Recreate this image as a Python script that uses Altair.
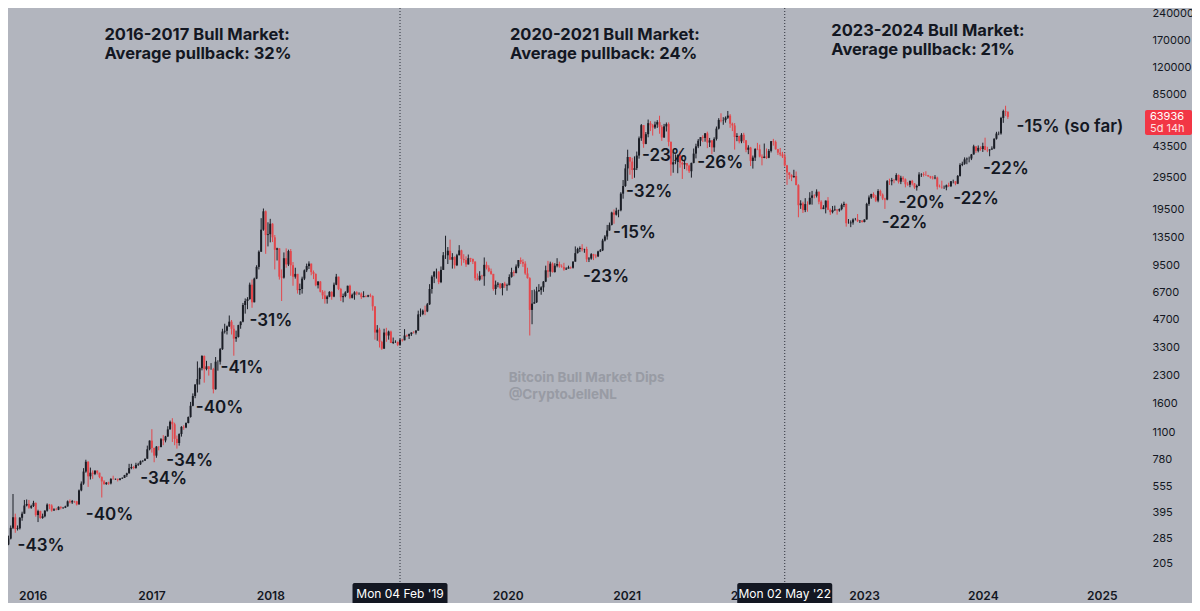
import altair as alt
import pandas as pd

# ---------------- weekly BTC/USD candles (weeks start on Monday) ----------------
first_open = 239

week1_2015 = "2015-10-05"
close_2015 = [246, 262, 283, 325, 372, 320, 323, 370, 390, 433, 442, 421, 430]
high_2015 = [249, 266, 294, 335, 502, 390, 335, 373, 400, 465, 468, 465, 437]
low_2015 = [235, 243, 260, 280, 320, 305, 314, 318, 356, 390, 428, 415, 415]

week1_2016 = "2016-01-04"
close_2016 = [448, 383, 403, 369, 377, 405, 438, 433, 406, 412, 410, 426, 420, 421, 428, 457,
              451, 458, 457, 439, 526, 574, 670, 760, 630, 660, 650, 678, 660, 624, 590, 570,
              581, 575, 610, 607, 610, 602, 613, 618, 640, 655, 700, 710, 702, 730, 735, 765,
              770, 790, 892, 997]
high_2016 = [460, 450, 410, 405, 390, 408, 445, 442, 440, 418, 420, 428, 428, 425, 432, 462,
             468, 465, 460, 459, 532, 590, 700, 780, 765, 705, 680, 680, 680, 660, 630, 600,
             585, 588, 615, 635, 612, 612, 615, 622, 642, 660, 740, 740, 720, 750, 750, 772,
             775, 792, 935, 1000]
low_2016 = [425, 375, 350, 365, 365, 372, 400, 413, 400, 405, 407, 408, 412, 414, 419, 427,
            445, 442, 448, 433, 439, 520, 565, 660, 550, 605, 610, 640, 645, 615, 480, 565,
            565, 565, 568, 605, 602, 590, 598, 609, 617, 625, 653, 690, 690, 695, 720, 730,
            755, 770, 790, 880]

week1_2017 = "2017-01-02"
close_2017 = [908, 822, 923, 918, 1015, 1000, 1052, 1152, 1270, 1230, 1020, 967, 1085, 1190,
              1180, 1250, 1350, 1560, 1770, 2050, 2200, 2530, 2960, 2500, 2590, 2500, 2500,
              1930, 2750, 2750, 3230, 4050, 4090, 4330, 4600, 4200, 3700, 3780, 4400, 4600,
              5700, 6000, 6150, 7400, 5900, 8000, 9300, 11300, 15000, 19000, 14000, 14150]
high_2017 = [1155, 910, 930, 925, 1030, 1070, 1060, 1200, 1290, 1330, 1255, 1065, 1095, 1200,
             1215, 1260, 1360, 1640, 1830, 2060, 2760, 2550, 2990, 2980, 2780, 2600, 2700,
             2540, 2920, 2800, 3280, 4200, 4480, 4380, 4980, 4700, 4400, 4100, 4420, 4620,
             5850, 6200, 6300, 7600, 7900, 8100, 9500, 11500, 17400, 19700, 19200, 16500]
low_2017 = [855, 755, 800, 880, 915, 940, 975, 1045, 1150, 980, 940, 900, 935, 1050, 1145,
            1170, 1245, 1340, 1550, 1720, 1850, 2050, 2460, 2100, 2460, 2300, 2480, 1830,
            1920, 2450, 2650, 3200, 3950, 3900, 4300, 3900, 2970, 3550, 3750, 4200, 4560,
            5100, 5400, 6100, 5500, 5900, 7950, 9000, 11300, 14800, 11000, 12100]

week1_2018 = "2018-01-01"
close_2018 = [16200, 13600, 11600, 11800, 8200, 8100, 10400, 9600, 11400, 9500, 8200, 8500,
              6900, 7000, 8000, 8900, 9400, 9700, 8700, 8500, 7350, 7700, 6750, 6450, 6150,
              6350, 6750, 6350, 7400, 8200, 7000, 6300, 6400, 6700, 7300, 6250, 6500, 6700,
              6600, 6600, 6300, 6400, 6350, 6450, 6400, 5600, 4000, 4150, 3550, 3250, 4000,
              3850, 4050]
high_2018 = [17250, 16300, 14000, 11900, 11700, 9000, 11200, 11800, 11600, 11700, 9900, 9200,
             8500, 7500, 8200, 9000, 9700, 9990, 9650, 8880, 8550, 7750, 7760, 6900, 6850,
             6450, 6800, 6800, 7600, 8500, 8200, 7100, 6600, 6800, 7300, 7400, 6600, 6800,
             6800, 6700, 6700, 6800, 6450, 6500, 6600, 6450, 5600, 4400, 4250, 3600, 4200,
             4250, 4100]
low_2018 = [12750, 12800, 9000, 10100, 7900, 6000, 8000, 9200, 9400, 8300, 7300, 8000, 6600,
            6500, 6600, 7850, 8700, 9050, 8350, 7950, 7250, 7050, 6700, 6150, 5800, 5800,
            6300, 6100, 6300, 7350, 6900, 6000, 5900, 6300, 6650, 6150, 6200, 6100, 6450,
            6500, 6150, 6350, 6300, 6300, 6300, 5300, 3650, 3600, 3300, 3200, 3250, 3550, 3650]

week1_2019 = "2019-01-07"
close_2019 = [3500, 3550, 3550, 3420, 3650, 3620, 3850, 3820, 3920, 4000, 3990, 4100, 5050,
              5070, 5300, 5250, 5750, 7000, 8200, 8750, 8750, 7650, 8950, 10800, 10800, 11450,
              10200, 10550, 9500, 10800, 11500, 10300, 10150, 9600, 10400, 10300, 9950, 8050,
              7900, 8300, 8250, 9550, 9200, 8800, 8500, 7000, 7400, 7500, 7100, 7500, 7300, 7350]
high_2019 = [4100, 3750, 3620, 3560, 3700, 3690, 4180, 3900, 3950, 4010, 4070, 4130, 5300,
             5450, 5380, 5650, 5850, 7450, 8350, 8800, 9100, 8800, 9350, 11250, 13880, 12000,
             13200, 11100, 10650, 11000, 12300, 11600, 10950, 10650, 10900, 10450, 10350,
             10000, 8550, 8800, 8400, 10500, 9950, 9500, 9100, 8500, 7800, 7650, 7550, 7550,
             7680, 7500]
low_2019 = [3500, 3450, 3500, 3360, 3370, 3560, 3620, 3780, 3680, 3830, 3950, 3900, 4100,
            4900, 5000, 5000, 5200, 5700, 6600, 7550, 8000, 7450, 7550, 8950, 10300, 9650,
            10200, 9100, 9100, 9400, 11200, 9450, 9800, 9300, 9600, 9900, 9650, 7800, 7800,
            7780, 7900, 7300, 9000, 8700, 8400, 6850, 6500, 7150, 7000, 6450, 7100, 6850]

week1_2020 = "2020-01-06"
close_2020 = [8180, 8700, 8600, 9350, 10150, 9900, 9700, 8550, 8050, 5350, 5800, 5900, 6800,
              6900, 7150, 7700, 8900, 8750, 9700, 8700, 9450, 9650, 9350, 9300, 9000, 9100,
              9250, 9200, 9950, 11100, 11700, 11850, 11650, 11700, 10250, 10350, 10950, 10750,
              10650, 11350, 11500, 13050, 13750, 14850, 15950, 18700, 18200, 19150, 19250,
              23850, 26300, 33000]
high_2020 = [8450, 9200, 8900, 9600, 10150, 10500, 10250, 10000, 9200, 8150, 6900, 6950, 7200,
             7450, 7250, 7750, 9450, 10050, 9950, 9850, 9750, 10400, 9950, 9600, 9800, 9250,
             9450, 9350, 10000, 12100, 11900, 12100, 12450, 11750, 12050, 10550, 11100, 11000,
             10950, 11450, 11700, 13350, 14000, 15950, 16450, 18900, 19450, 19900, 19400,
             24300, 28400, 34800]
low_2020 = [7700, 8100, 8250, 8550, 9150, 9650, 9300, 8400, 8000, 3850, 4450, 5850, 5850,
            6750, 6500, 6750, 7650, 8100, 8200, 8650, 8650, 9250, 9200, 9200, 8850, 8950,
            9100, 9050, 9100, 9950, 11050, 11250, 11350, 11150, 9900, 9900, 10200, 10150,
            10400, 10550, 11250, 11400, 12900, 13200, 14800, 15850, 16200, 18000, 17600,
            19000, 22350, 26000]

week1_2021 = "2021-01-04"
close_2021 = [38200, 36000, 32300, 33100, 38900, 48600, 57500, 45200, 51200, 59000, 57400,
              55800, 58000, 59800, 56200, 49100, 56600, 58300, 46400, 34700, 35700, 35800,
              39100, 35500, 34700, 35300, 34200, 31800, 35400, 39900, 43800, 47100, 49300,
              48800, 51800, 46000, 47300, 43200, 48200, 55000, 61500, 61100, 61300, 63300,
              65000, 58600, 57300, 49400, 50100, 46700, 50800, 47300]
high_2021 = [41950, 38200, 37800, 38500, 40950, 49700, 58350, 57500, 52600, 61800, 60600,
             58400, 60200, 61300, 64900, 57500, 58450, 59500, 59600, 46600, 40800, 39500,
             39500, 41300, 36000, 36600, 35100, 34650, 35500, 42600, 45300, 48100, 49300,
             50500, 51900, 52900, 48800, 47300, 49200, 56500, 62900, 67000, 63700, 64300,
             69000, 66300, 59400, 59100, 51900, 50000, 51900, 52100]
low_2021 = [28100, 30400, 28800, 29250, 32300, 37400, 47000, 43000, 45000, 49200, 53300,
            50300, 54800, 55500, 51500, 47000, 48800, 53000, 43800, 30000, 31200, 34800,
            31000, 33300, 28800, 32700, 32100, 31100, 29300, 35200, 37500, 42800, 43900,
            46300, 46500, 42800, 43400, 39600, 40800, 47200, 54400, 59600, 57800, 59400,
            62300, 55600, 53300, 42000, 46800, 45500, 45600, 45700]

week1_2022 = "2022-01-03"
close_2022 = [41900, 43100, 36300, 37900, 42400, 42200, 38400, 37700, 38400, 37800, 41300,
              46800, 46400, 42200, 40400, 39500, 38500, 34300, 31300, 30300, 29450, 29900,
              26600, 20550, 21030, 19300, 20850, 20800, 22600, 23300, 23200, 24450, 21500,
              19550, 19950, 21800, 19400, 18800, 19300, 19450, 19200, 19550, 20600, 20900,
              16300, 16300, 16450, 17100, 17100, 16750, 16850, 16550]
high_2022 = [47500, 44400, 43500, 38900, 42700, 45800, 44800, 39500, 45400, 42600, 42300,
             46900, 48200, 47200, 42400, 42900, 40800, 40000, 34500, 31400, 30600, 32400,
             31700, 26900, 21900, 21500, 22500, 21600, 24300, 24700, 23650, 25200, 24450,
             21900, 20550, 21850, 22800, 19700, 20350, 20450, 19500, 19700, 21000, 21500,
             21000, 17200, 16900, 17350, 17450, 18350, 16950, 16950]
low_2022 = [40600, 39600, 34000, 32900, 36300, 41700, 38000, 34300, 37600, 37200, 37600,
            40500, 44200, 42000, 39200, 38600, 37700, 33700, 26700, 28700, 28000, 29300,
            26600, 17600, 19600, 18600, 18800, 18900, 20700, 20700, 22450, 22700, 20800,
            19500, 19550, 18500, 19300, 18150, 18500, 19100, 18200, 18900, 19250, 20050,
            15600, 16200, 15500, 16000, 16900, 16550, 16350, 16450]

week1_2023 = "2023-01-02"
close_2023 = [17100, 20900, 22700, 23750, 22950, 21800, 24650, 23550, 22400, 22100, 28000,
              27950, 28450, 28350, 30300, 27800, 29250, 28650, 26900, 26750, 28100, 27200,
              25850, 26350, 30500, 30600, 30300, 30250, 29800, 29300, 29050, 29300, 26100,
              26000, 25850, 25850, 26550, 26250, 27950, 27950, 27100, 29950, 34500, 35000,
              37050, 37400, 37450, 39450, 43800, 41350, 42950, 42300]
high_2023 = [17150, 21200, 23300, 23800, 24250, 23450, 25250, 25100, 23900, 22600, 28400,
             28900, 29200, 28800, 31000, 30500, 30000, 29850, 29000, 27650, 28200, 28450,
             27300, 26800, 31400, 31000, 31400, 31800, 30350, 29950, 29950, 30250, 29650,
             26800, 28150, 26450, 26800, 27450, 28050, 28550, 28000, 30300, 35250, 35950,
             38000, 37950, 38400, 39700, 44700, 43450, 44300, 43800]
low_2023 = [16500, 17100, 20400, 22300, 22550, 21400, 21350, 23100, 21950, 19600, 21900,
            26650, 26550, 27250, 28200, 27150, 26950, 27700, 25850, 26350, 25900, 26500,
            25350, 24800, 26250, 29550, 29700, 29950, 29550, 28900, 28600, 28700, 25150,
            25800, 25400, 25350, 24900, 26000, 25950, 27200, 26550, 26950, 29700, 33950,
            34550, 34800, 35650, 36700, 39400, 40250, 40550, 41400]

week1_2024 = "2024-01-01"
close_2024 = [43950, 41750, 41600, 42050, 42600, 48300, 51650, 51700, 63100, 68950, 68400, 63936]
high_2024 = [45900, 48950, 43550, 42200, 43800, 48550, 52800, 52950, 64000, 70150, 73800, 68100]
low_2024 = [40750, 41700, 40650, 38550, 41850, 42250, 47750, 50550, 50900, 59250, 64600, 62300]

# ---------------- annotations ----------------
dip_labels = ["-43%", "-40%", "-34%", "-34%", "-40%", "-41%", "-31%", "-23%", "-15%", "-32%",
              "-23%", "-26%", "-22%", "-20%", "-22%", "-22%", "-15% (so far)"]
dip_dates = ["2015-11-16", "2016-06-13", "2016-11-27", "2017-02-15", "2017-05-17", "2017-08-01",
             "2017-10-29", "2020-08-20", "2020-11-20", "2020-12-30", "2021-02-17", "2021-08-06",
             "2023-02-24", "2023-04-17", "2023-10-02", "2024-01-02", "2024-04-14"]
dip_prices = [257, 383, 609, 767, 1518, 2536, 4641, 8165, 14370, 24360, 38690, 35360,
              16360, 21150, 22250, 32730, 56160]

header_lines = ["2016-2017 Bull Market:", "Average pullback: 32%",
                "2020-2021 Bull Market:", "Average pullback: 24%",
                "2023-2024 Bull Market:", "Average pullback: 21%"]
header_dates = ["2016-08-09", "2016-08-09", "2020-01-08", "2020-01-08", "2022-09-22", "2022-09-22"]
header_prices = [183200, 143500, 183200, 143500, 192900, 151100]

watermark_lines = ["Bitcoin Bull Market Dips", "@CryptoJelleNL"]
watermark_dates = ["2020-01-04", "2020-01-04"]
watermark_prices = [2220, 1800]

marker_dates = ["2019-02-04", "2022-05-02"]
marker_labels = ["Mon 04 Feb '19", "Mon 02 May '22"]

last_price = 63936
last_countdown = "5d 14h"

price_ticks = [205, 285, 395, 555, 780, 1100, 1600, 2300, 3300, 4700, 6700, 9500, 13500,
               19500, 29500, 43500, 85000, 120000, 170000, 240000]
year_ticks = [2016, 2017, 2018, 2020, 2021, 2022, 2023, 2024, 2025]

# ---------------- build tables ----------------
blocks = [
    (week1_2015, close_2015, high_2015, low_2015),
    (week1_2016, close_2016, high_2016, low_2016),
    (week1_2017, close_2017, high_2017, low_2017),
    (week1_2018, close_2018, high_2018, low_2018),
    (week1_2019, close_2019, high_2019, low_2019),
    (week1_2020, close_2020, high_2020, low_2020),
    (week1_2021, close_2021, high_2021, low_2021),
    (week1_2022, close_2022, high_2022, low_2022),
    (week1_2023, close_2023, high_2023, low_2023),
    (week1_2024, close_2024, high_2024, low_2024),
]
rows = []
prev = first_open
for start, cl, hi, lo in blocks:
    dates = pd.date_range(start, periods=len(cl), freq="7D")
    for d, c, h, l in zip(dates, cl, hi, lo):
        rows.append({
            "date": d.strftime("%Y-%m-%d"),
            "open": prev,
            "close": c,
            "high": max(h, prev, c),
            "low": min(l, prev, c),
            "dir": "up" if c >= prev else "down",
        })
        prev = c
candles = pd.DataFrame(rows)

dips = pd.DataFrame({"label": dip_labels, "date": dip_dates, "price": dip_prices})
headers = pd.DataFrame({"label": header_lines, "date": header_dates, "price": header_prices})
marks_wm = pd.DataFrame({"label": watermark_lines, "date": watermark_dates, "price": watermark_prices})
markers = pd.DataFrame({"date": marker_dates, "label": marker_labels})
lastp = pd.DataFrame({"price": [last_price], "line1": [str(last_price)], "line2": [last_countdown]})

# ---------------- chart ----------------
W, H = 1132, 574
FONT = "Inter"
INK = "#131722"
BG = "#b2b5be"

x_scale = alt.Scale(type="utc", nice=False,
                    domain=[alt.DateTime(year=2015, month=11, date=2, utc=True),
                            alt.DateTime(year=2025, month=4, date=13, utc=True)])
y_scale = alt.Scale(type="log", nice=False, zero=False, domain=[162, 259240])

x_axis = alt.Axis(values=[alt.DateTime(year=y, month=1, date=1, utc=True) for y in year_ticks],
                  format="%Y", title=None, grid=False, domain=False, ticks=False, tickSize=0,
                  labelFont=FONT, labelFontSize=12, labelFontWeight=600, labelColor=INK,
                  labelPadding=13, labelBaseline="middle", labelFlush=False, labelOverlap=False)
y_axis = alt.Axis(orient="right", values=price_ticks, format="d", title=None, grid=False,
                  domain=False, ticks=False, tickSize=0, labelFont=FONT, labelFontSize=11,
                  labelColor=INK, labelPadding=12, labelAlign="left", labelBaseline="middle",
                  labelOverlap=False, labelFlush=False)

X = alt.X("date:T", scale=x_scale, axis=x_axis)
color = alt.Color("dir:N", scale=alt.Scale(domain=["up", "down"], range=["#1b1e26", "#e3474c"]),
                  legend=None)

base = alt.Chart(candles)
wicks = base.mark_rule(strokeWidth=1, clip=True).encode(
    x=X, y=alt.Y("low:Q", scale=y_scale, axis=y_axis), y2="high:Q", color=color)
bodies = base.mark_bar(size=2, clip=True).encode(
    x=X, y=alt.Y("open:Q", scale=y_scale, axis=y_axis), y2="close:Q", color=color)

vlines = alt.Chart(markers).mark_rule(color="#2a2e39", strokeWidth=1, strokeDash=[1, 2]).encode(
    x=X, y=alt.value(0), y2=alt.value(H))
date_boxes = alt.Chart(markers).mark_bar(size=95, color=INK, cornerRadius=2).encode(
    x=X, y=alt.value(H + 1), y2=alt.value(H + 23))
date_text = alt.Chart(markers).mark_text(font=FONT, fontSize=12, color="white",
                                         baseline="middle", align="center").encode(
    x=X, y=alt.value(H + 12), text="label:N")

def text_layer(df, size, weight, col):
    return alt.Chart(df).mark_text(font=FONT, fontSize=size, fontWeight=weight, color=col,
                                   align="left", baseline="middle").encode(
        x=X, y=alt.Y("price:Q", scale=y_scale, axis=y_axis), text="label:N")

dip_text = text_layer(dips, 17, 600, INK)
header_text = text_layer(headers, 16.5, 700, INK)
wm_text = text_layer(marks_wm, 13.5, 700, "#989ba4")

price_box = alt.Chart(lastp).mark_rect(color="#f23645", yOffset=-7, y2Offset=18,
                                        cornerRadius=2).encode(
    x=alt.value(W + 5), x2=alt.value(W + 52),
    y=alt.Y("price:Q", scale=y_scale, axis=y_axis), y2="price:Q")
price_t1 = alt.Chart(lastp).mark_text(font=FONT, fontSize=11, color="white", align="left",
                                      baseline="middle").encode(
    x=alt.value(W + 10), y=alt.Y("price:Q", scale=y_scale, axis=y_axis), text="line1:N")
price_t2 = alt.Chart(lastp).mark_text(font=FONT, fontSize=11, color="#ffe1e1", align="left",
                                      baseline="middle", dy=12).encode(
    x=alt.value(W + 10), y=alt.Y("price:Q", scale=y_scale, axis=y_axis), text="line2:N")

chart = alt.layer(
    wm_text, vlines, wicks, bodies, dip_text, header_text,
    date_boxes, date_text, price_box, price_t1, price_t2
).properties(
    width=W, height=H,
    padding={"left": 0, "top": 0, "right": 52, "bottom": 21},
    autosize=alt.AutoSizeParams(type="none"),
    background=BG,
).configure_view(stroke=None)

chart.save("out.html", embed_options={"renderer": "svg", "actions": False})
